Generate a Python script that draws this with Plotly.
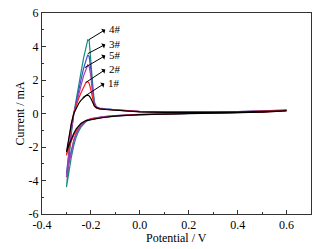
import plotly.graph_objects as go

# Potential grids (V)
E_fwd = [-0.300, -0.290, -0.280, -0.270, -0.260, -0.250, -0.240, -0.230, -0.220, -0.213,
         -0.207, -0.200, -0.193, -0.186, -0.178, -0.165, -0.140, -0.100, -0.050, 0.000,
         0.100, 0.200, 0.300, 0.400, 0.500, 0.600]
E_rev = [0.600, 0.500, 0.400, 0.300, 0.200, 0.100, 0.000, -0.050, -0.100, -0.150,
         -0.200, -0.220, -0.240, -0.250, -0.260, -0.270, -0.280, -0.290, -0.300]

# Currents (mA), forward then reverse scan
s4_fwd = [-4.40, -2.70, -1.20, 0.00, 0.90, 1.70, 2.50, 3.30, 4.00, 4.40, 4.35, 3.30, 1.80, 0.70,
          0.40, 0.32, 0.27, 0.22, 0.16, 0.12, 0.09, 0.08, 0.09, 0.11, 0.14, 0.20]
s4_rev = [0.20, 0.10, 0.05, 0.02, 0.00, -0.03, -0.07, -0.10, -0.14, -0.22, -0.35, -0.48, -0.80,
          -1.05, -1.40, -1.90, -2.60, -3.40, -4.40]
s3_fwd = [-3.60, -2.20, -1.00, 0.00, 0.75, 1.40, 2.05, 2.70, 3.25, 3.50, 3.40, 2.60, 1.40, 0.60,
          0.38, 0.30, 0.26, 0.21, 0.15, 0.11, 0.08, 0.07, 0.08, 0.10, 0.13, 0.18]
s3_rev = [0.18, 0.09, 0.05, 0.02, 0.00, -0.03, -0.06, -0.09, -0.13, -0.20, -0.32, -0.44, -0.70,
          -0.92, -1.20, -1.60, -2.20, -2.85, -3.60]
s5_fwd = [-3.80, -2.30, -1.00, -0.05, 0.60, 1.15, 1.70, 2.25, 2.70, 2.90, 2.80, 2.20, 1.20, 0.55,
          0.38, 0.31, 0.27, 0.22, 0.17, 0.13, 0.10, 0.09, 0.10, 0.12, 0.15, 0.20]
s5_rev = [0.20, 0.10, 0.06, 0.03, 0.01, -0.02, -0.05, -0.08, -0.12, -0.19, -0.30, -0.42, -0.68,
          -0.90, -1.20, -1.62, -2.25, -3.00, -3.80]
s2_fwd = [-2.50, -1.50, -0.60, 0.05, 0.50, 0.90, 1.25, 1.60, 1.85, 1.90, 1.80, 1.40, 0.80, 0.45,
          0.33, 0.28, 0.24, 0.20, 0.15, 0.11, 0.08, 0.07, 0.08, 0.10, 0.13, 0.17]
s2_rev = [0.17, 0.08, 0.04, 0.02, 0.00, -0.03, -0.06, -0.10, -0.15, -0.22, -0.33, -0.42, -0.62,
          -0.78, -1.00, -1.30, -1.65, -2.05, -2.50]
s1_fwd = [-2.30, -1.40, -0.60, 0.00, 0.35, 0.60, 0.80, 0.95, 1.07, 1.10, 1.05, 0.90, 0.65, 0.45,
          0.35, 0.28, 0.24, 0.19, 0.14, 0.10, 0.07, 0.06, 0.07, 0.09, 0.12, 0.16]
s1_rev = [0.16, 0.08, 0.04, 0.01, -0.01, -0.04, -0.07, -0.11, -0.16, -0.24, -0.34, -0.42, -0.58,
          -0.72, -0.92, -1.18, -1.50, -1.90, -2.30]

labels = ["4#", "3#", "5#", "2#", "1#"]
colors = ["#178a80", "#3a4fc8", "#a040b0", "#ff2020", "#000000"]
# arrow tail (on curve) and head (label side), data coordinates
tail_x = [-0.209, -0.213, -0.225, -0.221, -0.234]
tail_y = [4.40, 3.57, 2.74, 1.85, 0.95]
head_x = [-0.135, -0.135, -0.135, -0.135, -0.139]
head_y = [5.06, 4.17, 3.51, 2.68, 1.85]

x_ticks = [-0.4, -0.2, 0.0, 0.2, 0.4, 0.6]
x_ticktext = ["-0.4", "-0.2", "0.0", "0.2", "0.4", "0.6"]
y_ticks = [-6, -4, -2, 0, 2, 4, 6]
y_ticktext = ["-6", "-4", "-2", "0", "2", "4", "6"]
x_title = "Potential / V"
y_title = "Current / mA"

series = [(s4_fwd, s4_rev), (s3_fwd, s3_rev), (s5_fwd, s5_rev), (s2_fwd, s2_rev), (s1_fwd, s1_rev)]

fig = go.Figure()
for (f, r), name, c in zip(series, labels, colors):
    fig.add_trace(go.Scatter(x=E_fwd + E_rev, y=f + r, mode="lines", name=name,
                             line=dict(color=c, width=1.2), showlegend=False))

font = dict(family="Liberation Serif, Times New Roman, serif", size=12, color="black")
lab_font = dict(family="Liberation Serif, Times New Roman, serif", size=11, color="black")
for i, lab in enumerate(labels):
    fig.add_annotation(x=tail_x[i], y=tail_y[i], ax=head_x[i], ay=head_y[i],
                       xref="x", yref="y", axref="x", ayref="y", text="",
                       showarrow=True, arrowside="start", arrowhead=2, arrowsize=1.2,
                       arrowwidth=1, arrowcolor="black")
    fig.add_annotation(x=head_x[i] + 0.003, y=head_y[i], xref="x", yref="y", text=lab,
                       showarrow=False, xanchor="left", yanchor="middle", font=lab_font,
                       borderpad=0)

# axis titles placed in paper coordinates
fig.add_annotation(x=0.5, y=-0.118, xref="paper", yref="paper", text=x_title,
                   showarrow=False, xanchor="center", yanchor="middle", font=font, borderpad=0)
fig.add_annotation(x=-0.082, y=0.5, xref="paper", yref="paper", text=y_title,
                   showarrow=False, xanchor="center", yanchor="middle", textangle=-90,
                   font=font, borderpad=0)

axis_common = dict(showline=True, linecolor="#333333", linewidth=1, mirror=True,
                   ticks="inside", ticklen=4, tickcolor="#333333", showgrid=False,
                   zeroline=False, tickfont=font, automargin=False)
fig.update_xaxes(range=[-0.4, 0.7], tickmode="array", tickvals=x_ticks, ticktext=x_ticktext,
                 minor=dict(ticks="inside", ticklen=2, tick0=-0.3, dtick=0.2, tickcolor="#333333"),
                 **axis_common)
fig.update_yaxes(range=[-6, 6], tickmode="array", tickvals=y_ticks, ticktext=y_ticktext,
                 minor=dict(ticks="inside", ticklen=2, tick0=-5, dtick=2, tickcolor="#333333"),
                 **axis_common)

fig.update_layout(width=332, height=249, margin=dict(l=42, r=21, t=13, b=35),
                  paper_bgcolor="white", plot_bgcolor="white", font=font)
fig.write_html("out.html", config={"displayModeBar": False},
               post_script="document.body.style.margin='0';document.body.style.overflow='hidden';")
